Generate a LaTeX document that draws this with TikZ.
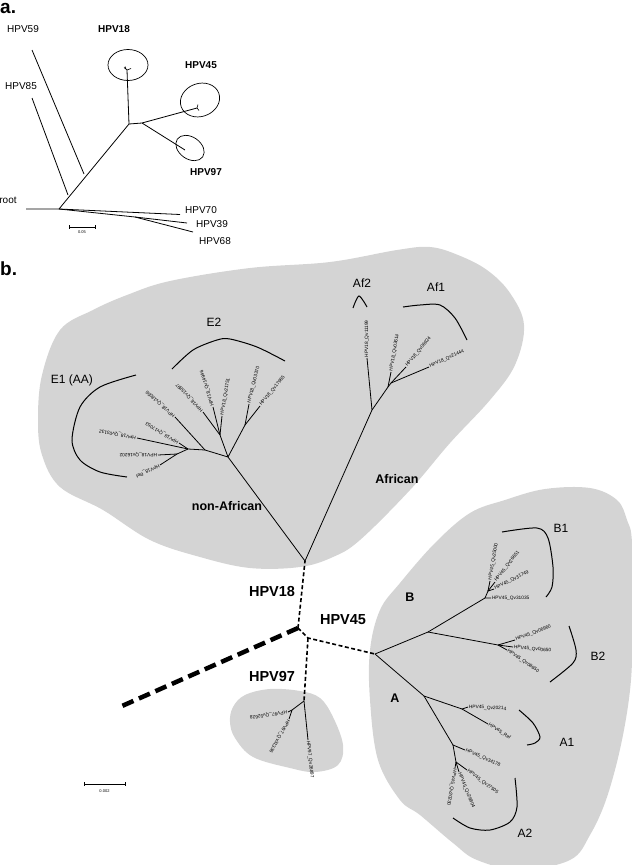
\documentclass[tikz,border=0pt]{standalone}
\usepackage{fontspec}
\setmainfont{Liberation Sans}
\definecolor{blob}{gray}{0.83}
\begin{document}
\begin{tikzpicture}[x=1pt,y=-1pt,
  br/.style={line width=0.8pt},
  arcl/.style={line width=1pt},
  dsh/.style={line width=1.6pt, dash pattern=on 4pt off 2.5pt},
  thickdsh/.style={line width=4.5pt, dash pattern=on 12pt off 6pt},
  leaf/.style={font=\fontsize{4.8}{6}\selectfont, inner sep=0.8pt, anchor=west},
  alab/.style={font=\fontsize{10}{12}\selectfont, inner sep=0pt},
  alabb/.style={font=\bfseries\fontsize{10}{12}\selectfont, inner sep=0pt},
  clade/.style={font=\fontsize{12}{14}\selectfont, inner sep=0pt},
  big/.style={font=\bfseries\fontsize{14.5}{16}\selectfont, inner sep=0pt},
  mid/.style={font=\bfseries\fontsize{12.5}{14}\selectfont, inner sep=0pt},
  panel/.style={font=\bfseries\fontsize{19}{20}\selectfont, inner sep=0pt, anchor=base west},
  tiny/.style={font=\fontsize{4}{5}\selectfont, inner sep=0pt}]
\useasboundingbox (0,0) rectangle (632,865);

% ================= panel a =================
\node[panel] (pa) at (0,13.5) {a.};
\coordinate (aroot) at (59,209);
\coordinate (arootL) at (26,209);
\coordinate (a70) at (180,214.5);
\coordinate (a39n) at (135,217);
\coordinate (a39) at (187,223);
\coordinate (a68) at (193,232);
\coordinate (atr) at (129,124);
\coordinate (a85n) at (68,195);
\coordinate (a85) at (32,98);
\coordinate (a59n) at (84,174);
\coordinate (a59) at (32,50);
\coordinate (a18) at (127,70);
\coordinate (a45n) at (142,123);
\coordinate (a45) at (197,108);
\coordinate (a97) at (185,150);
\draw[br] (arootL) -- (aroot) -- (atr);
\draw[br] (aroot) -- (a70);
\draw[br] (aroot) -- (a39n) -- (a39);
\draw[br] (a39n) -- (a68);
\draw[br] (a85n) -- (a85);
\draw[br] (a59n) -- (a59);
\draw[br] (atr) -- (a18);
\draw[br] (atr) -- (a45n) -- (a45);
\draw[br] (a45n) -- (a97);
\draw[line width=0.6pt] (a18) -- (124,67.5) (a18) -- (131,68.5) (126,69) -- (125,66.5);
\draw[line width=0.6pt] (a45) -- (198,104.5) (a45) -- (199,110.5);
\draw[line width=0.7pt] (128,65) ellipse [x radius=20, y radius=15.5];
\draw[line width=0.7pt, rotate around={20:(200,100)}] (200,100) ellipse [x radius=20, y radius=16.5];
\draw[line width=0.7pt, rotate around={-35:(190,148)}] (190,148) ellipse [x radius=15.5, y radius=11];
\node[alab] (lHPV59) at (23,29) {HPV59};
\node[alabb] (lHPV18a) at (114,29) {HPV18};
\node[alabb] (lHPV45a) at (201,65) {HPV45};
\node[alab] (lHPV85) at (21,86) {HPV85};
\node[alabb] (lHPV97a) at (206,172) {HPV97};
\node[alab] (lroot) at (8,200) {root};
\node[alab] (lHPV70) at (201,210) {HPV70};
\node[alab] (lHPV39) at (212,224) {HPV39};
\node[alab] (lHPV68) at (215,241) {HPV68};
\coordinate (asb1) at (69,227);
\coordinate (asb2) at (95,227);
\draw[line width=0.7pt] (asb1) -- (asb2) (69,225) -- (69,229) (95,225) -- (95,229);
\node[tiny] (asbl) at (82,232.5) {0.05};

% ================= panel b =================
\node[panel] (pb) at (0,275) {b.};

% blobs
\fill[blob] plot[smooth cycle, tension=0.6] coordinates {(60,330) (93,310) (127,295) (170,281) (250,268) (330,262) (397,250) (430,247) (458,255) (487,270) (510,293) (524,325) (515,365) (490,400) (450,443) (410,490) (360,540) (333,557) (300,567) (250,568) (200,557) (150,540) (103,510) (60,487) (42,455) (38,420) (42,375)};
\fill[blob] plot[smooth cycle, tension=0.6] coordinates {(400,583) (380,610) (370,650) (370,700) (378,760) (400,800) (420,815) (453,843) (477,860) (520,870) (570,860) (590,835) (607,797) (622,740) (631,680) (632,620) (632,543) (627,520) (617,500) (590,488) (545,489) (505,500) (470,513) (435,543)};
\fill[blob] plot[smooth cycle, tension=0.6] coordinates {(233,707) (245,695) (270,689) (300,691) (320,698) (333,717) (343,745) (338,765) (315,772) (290,768) (253,757) (235,738) (230,722)};

% backbone
\coordinate (c0) at (298,628);
\coordinate (cL) at (122,706);
\coordinate (r18) at (305,561);
\coordinate (c45) at (308,638);
\coordinate (r45) at (375,654);
\coordinate (r97) at (304,701);
\draw[thickdsh] (c0) -- (cL);
\draw[dsh] (c0) -- (r18);
\draw[dsh] (c0) -- (c45) -- (r45);
\draw[dsh] (c45) -- (r97);
\node[big] (lHPV18) at (272,591) {HPV18};
\node[big] (lHPV45) at (343,620) {HPV45};
\node[big] (lHPV97) at (272,676) {HPV97};

% HPV18 subtree
\coordinate (hubA) at (228,457);
\coordinate (e1a) at (205,450);
\coordinate (e1b) at (188,449);
\coordinate (e1c) at (177,454);
\coordinate (l18056) at (175,417);
\coordinate (l17053) at (179,443);
\coordinate (l03132) at (137,438);
\coordinate (l16202) at (158,455);
\coordinate (l18ref) at (160,465);
\coordinate (nC) at (220,435);
\coordinate (l15897) at (203,412);
\coordinate (l14946) at (213,407);
\coordinate (l21751) at (222,416);
\coordinate (nD) at (245,425);
\coordinate (l03370) at (249,404);
\coordinate (l17965) at (260,406);
\coordinate (afn) at (372,410);
\coordinate (l11199) at (367,358);
\coordinate (af1n) at (388,387);
\coordinate (af1s) at (391,383);
\coordinate (l03614) at (391,372);
\coordinate (l06924) at (406,367);
\coordinate (l21444) at (429,367);
\draw[br] (r18) -- (hubA) -- (e1a) -- (e1b) -- (e1c);
\draw[br] (e1a) -- (l18056);
\draw[br] (e1b) -- (l17053);
\draw[br] (e1b) -- (l03132);
\draw[br] (e1c) -- (l16202);
\draw[br] (e1c) -- (l18ref);
\draw[br] (hubA) -- (nC) -- (l15897);
\draw[br] (nC) -- (l14946);
\draw[br] (nC) -- (l21751);
\draw[br] (hubA) -- (nD) -- (l03370);
\draw[br] (nD) -- (l17965);
\draw[br] (r18) -- (afn) -- (l11199);
\draw[br] (afn) -- (af1n) -- (l03614);
\draw[br] (af1n) -- (af1s) -- (l06924);
\draw[br] (af1s) -- (l21444);
\node[leaf, rotate=138] (t18056) at (l18056) {HPV18\_Qv18056};
\node[leaf, rotate=149] (t17053) at (l17053) {HPV18\_Qv17053};
\node[leaf, rotate=169] (t03132) at (l03132) {HPV18\_Qv03132};
\node[leaf, rotate=180] (t16202) at (l16202) {HPV18\_Qv16202};
\node[leaf, rotate=206] (t18ref) at (l18ref) {HPV18\_Ref};
\node[leaf, rotate=133] (t15897) at (l15897) {HPV18\_Qv15897};
\node[leaf, rotate=107] (t14946) at (l14946) {HPV18\_Qv14946};
\node[leaf, rotate=80] (t21751) at (l21751) {HPV18\_Qv21751};
\node[leaf, rotate=76] (t03370) at (l03370) {HPV18\_Qv03370};
\node[leaf, rotate=51] (t17965) at (l17965) {HPV18\_Qv17965};
\node[leaf, rotate=90] (t11199) at (l11199) {HPV18\_Qv11199};
\node[leaf, rotate=80] (t03614) at (l03614) {HPV18\_Qv03614};
\node[leaf, rotate=51] (t06924) at (l06924) {HPV18\_Qv06924};
\node[leaf, rotate=25] (t21444) at (l21444) {HPV18\_Qv21444};
\draw[arcl] plot[smooth] coordinates {(136,375) (100,387) (80,407) (72,440) (80,460) (100,472) (127,477)};
\draw[arcl] plot[smooth] coordinates {(172,369) (193,350) (217,340) (230,339) (257,347) (285,361)};
\draw[arcl] plot[smooth] coordinates {(353,308) (359,296) (367,307)};
\draw[arcl] plot[smooth] coordinates {(403,307) (420,305) (440,305) (455,318) (467,340)};
\node[clade] (lE1) at (72,380) {E1 (AA)};
\node[clade] (lE2) at (214,322) {E2};
\node[clade] (lAf2) at (362,283) {Af2};
\node[clade] (lAf1) at (436,287) {Af1};
\node[mid] (lnonAf) at (227,506) {non-African};
\node[mid] (lAf) at (397,479) {African};

% HPV45 subtree
\coordinate (bN) at (428,632);
\coordinate (b1n) at (485,598);
\coordinate (b1s) at (488,591);
\coordinate (l31035) at (491,598);
\coordinate (l31749) at (494,589);
\coordinate (l26651) at (495,582);
\coordinate (l25000) at (490,581);
\coordinate (b2n) at (498,645);
\coordinate (l06960) at (515,640);
\coordinate (l00650) at (513,647);
\coordinate (l08650) at (507,650);
\coordinate (aN) at (424,696);
\coordinate (a1n) at (462,709);
\coordinate (l20214) at (468,707);
\coordinate (l45ref) at (488,724);
\coordinate (a2a) at (453,745);
\coordinate (l34178) at (465,750);
\coordinate (a2b) at (456,762);
\coordinate (l27505) at (467,770);
\coordinate (l26804) at (459,772);
\coordinate (l20230) at (455,768);
\draw[br] (r45) -- (bN) -- (b1n) -- (l31035);
\draw[br] (b1n) -- (b1s) -- (l31749);
\draw[br] (b1s) -- (l26651);
\draw[br] (b1s) -- (l25000);
\draw[br] (bN) -- (b2n) -- (l06960);
\draw[br] (b2n) -- (l00650);
\draw[br] (b2n) -- (l08650);
\draw[br] (r45) -- (aN) -- (a1n) -- (l20214);
\draw[br] (a1n) -- (l45ref);
\draw[br] (aN) -- (a2a) -- (l34178);
\draw[br] (a2a) -- (a2b) -- (l27505);
\draw[br] (a2b) -- (l26804);
\draw[br] (a2b) -- (l20230);
\node[leaf, rotate=0] (t31035) at (l31035) {HPV45\_Qv31035};
\node[leaf, rotate=26] (t31749) at (l31749) {HPV45\_Qv31749};
\node[leaf, rotate=52] (t26651) at (l26651) {HPV45\_Qv26651};
\node[leaf, rotate=80] (t25000) at (l25000) {HPV45\_Qv25000};
\node[leaf, rotate=21] (t06960) at (l06960) {HPV45\_Qv06960};
\node[leaf, rotate=-6] (t00650) at (l00650) {HPV45\_Qv00650};
\node[leaf, rotate=-35] (t08650) at (l08650) {HPV45\_Qv08650};
\node[leaf, rotate=-3] (t20214) at (l20214) {HPV45\_Qv20214};
\node[leaf, rotate=-33] (t45ref) at (l45ref) {HPV45\_Ref};
\node[leaf, rotate=-24] (t34178) at (l34178) {HPV45\_Qv34178};
\node[leaf, rotate=-37] (t27505) at (l27505) {HPV45\_Qv27505};
\node[leaf, rotate=-68] (t26804) at (l26804) {HPV45\_Qv26804};
\node[leaf, rotate=-100] (t20230) at (l20230) {HPV45\_Qv20230};
\draw[arcl] plot[smooth] coordinates {(502,532) (537,528) (548,538) (553,567) (552,587) (546,597)};
\draw[arcl] plot[smooth] coordinates {(569,626) (576,650) (573,663) (550,682)};
\draw[arcl] plot[smooth] coordinates {(519,710) (533,723) (540,737) (535,743) (527,745)};
\draw[arcl] plot[smooth] coordinates {(515,778) (517,807) (510,822) (490,830) (470,828) (453,818)};
\node[clade] (lB1) at (561,528) {B1};
\node[clade] (lB2) at (598,656) {B2};
\node[clade] (lA1) at (567,742) {A1};
\node[clade] (lA2) at (525,833) {A2};
\node[mid] (lB) at (410,597) {B};
\node[mid] (lA) at (395,698) {A};

% HPV97 subtree
\coordinate (n97) at (292,710);
\coordinate (l52628) at (288,712);
\coordinate (l31336) at (289,719);
\coordinate (l26897) at (308,740);
\draw[br] (r97) -- (n97) -- (l52628);
\draw[br] (n97) -- (l31336);
\draw[br] (r97) -- (l26897);
\node[leaf, rotate=188] (t52628) at (l52628) {HPV97\_Qv52628};
\node[leaf, rotate=241] (t31336) at (l31336) {HPV97\_Qv31336};
\node[leaf, rotate=-84] (t26897) at (l26897) {HPV97\_Qv26897};

% scale bar b
\coordinate (bsb1) at (84,784);
\coordinate (bsb2) at (125,784);
\draw[line width=0.7pt] (bsb1) -- (bsb2) (84,782) -- (84,786) (125,782) -- (125,786);
\node[tiny] (bsbl) at (104.5,791) {0.002};
\end{tikzpicture}
\end{document}
